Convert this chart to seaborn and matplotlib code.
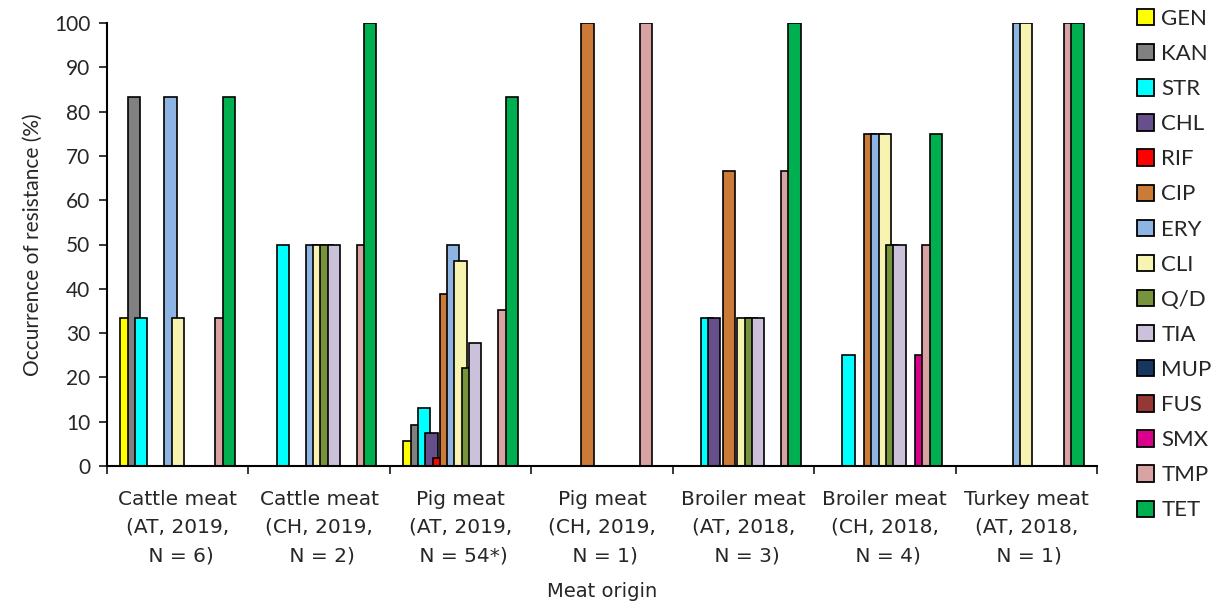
import numpy as np
import pandas as pd
import seaborn as sns
import matplotlib.pyplot as plt
from matplotlib.patches import Patch

origins = ["Cattle meat\n(AT, 2019,\n N = 6)", "Cattle meat\n(CH, 2019,\n N = 2)",
           "Pig meat\n(AT, 2019,\n N = 54*)", "Pig meat\n(CH, 2019,\n N = 1)",
           "Broiler meat\n(AT, 2018,\n N = 3)", "Broiler meat\n(CH, 2018,\n N = 4)",
           "Turkey meat\n(AT, 2018,\n N = 1)"]
antibiotics = ["GEN", "KAN", "STR", "CHL", "RIF", "CIP", "ERY", "CLI",
               "Q/D", "TIA", "MUP", "FUS", "SMX", "TMP", "TET"]
colors = ["#FFFF00", "#808080", "#00FFFF", "#664F8A", "#FF0000", "#CC7A38",
          "#8EB4E3", "#F7F3B0", "#77933C", "#CCC1DA", "#17375E", "#953735",
          "#D9008C", "#D9A3A3", "#00B050"]

# one row per origin, one value per antibiotic (% resistant)
cattle_at = [33.3, 83.3, 33.3, 0, 0, 0, 83.3, 33.3, 0, 0, 0, 0, 0, 33.3, 83.3]
cattle_ch = [0, 0, 50, 0, 0, 0, 50, 50, 50, 50, 0, 0, 0, 50, 100]
pig_at = [5.6, 9.3, 13.0, 7.4, 1.9, 38.9, 50.0, 46.3, 22.2, 27.8, 0, 0, 0, 35.2, 83.3]
pig_ch = [0, 0, 0, 0, 0, 100, 0, 0, 0, 0, 0, 0, 0, 100, 0]
broiler_at = [0, 0, 33.3, 33.3, 0, 66.7, 0, 33.3, 33.3, 33.3, 0, 0, 0, 66.7, 100]
broiler_ch = [0, 0, 25, 0, 0, 75, 75, 75, 50, 50, 0, 0, 25, 50, 75]
turkey_at = [0, 0, 0, 0, 0, 0, 100, 100, 0, 0, 0, 0, 0, 100, 100]

rows = []
for org, vals in zip(origins, [cattle_at, cattle_ch, pig_at, pig_ch,
                               broiler_at, broiler_ch, turkey_at]):
    for ab, v in zip(antibiotics, vals):
        rows.append({"origin": org, "antibiotic": ab, "value": v})
df = pd.DataFrame(rows)

sns.set_style("ticks")
plt.rcParams["font.family"] = ["DejaVu Sans"]

fig = plt.figure(figsize=(12.16, 6.08), dpi=100)
ax = fig.add_axes([107 / 1216, 1 - 466 / 608, 990 / 1216, 443 / 608])

step = 0.0516
sns.barplot(data=df, x="origin", y="value", hue="antibiotic",
            order=origins, hue_order=antibiotics, palette=colors,
            width=step * 15, saturation=1, edgecolor="black", linewidth=1.2,
            legend=False, ax=ax)

# Excel-style overlapping bars: widen each bar around its centre
bw = 0.087
for i, cont in enumerate(ax.containers):
    for p in cont:
        c = p.get_x() + p.get_width() / 2
        p.set_width(bw)
        p.set_x(c - bw / 2)
        p.set_zorder(2 + i * 0.01)

ax.set_xlim(-0.5, 6.5)
ax.set_ylim(0, 100)
ax.set_yticks(np.arange(0, 101, 10))
ax.tick_params(axis="y", direction="out", length=6, width=1.3, labelsize=15, pad=6)
for lab in ax.get_yticklabels():
    lab.set_fontfamily("Lato")
ax.set_xticks(range(len(origins)))
ax.set_xticklabels(origins, fontsize=14.5, linespacing=1.62)
ax.tick_params(axis="x", length=0, pad=17)
ax.set_xticks(np.arange(-0.5, 7, 1), minor=True)
ax.tick_params(axis="x", which="minor", direction="out", length=6, width=1.3)

for s in ["top", "right"]:
    ax.spines[s].set_visible(False)
for s in ["left", "bottom"]:
    ax.spines[s].set_linewidth(1.5)
    ax.spines[s].set_color("black")

ax.set_xlabel("Meat origin", fontsize=14, labelpad=12)
ax.set_ylabel("Occurrence of resistance (%)", fontsize=15, family="Lato", labelpad=8)

handles = [Patch(facecolor=c, edgecolor="black", linewidth=1.3, label=a)
           for a, c in zip(antibiotics, colors)]
fig.legend(handles=handles, loc="upper left", bbox_to_anchor=(1128 / 1216, 1.0),
           frameon=False, prop={"family": "Lato", "size": 16},
           handlelength=0.75, handleheight=0.75, handletextpad=0.35,
           labelspacing=0.68, borderaxespad=0)

fig.savefig("out.png", dpi=100)
